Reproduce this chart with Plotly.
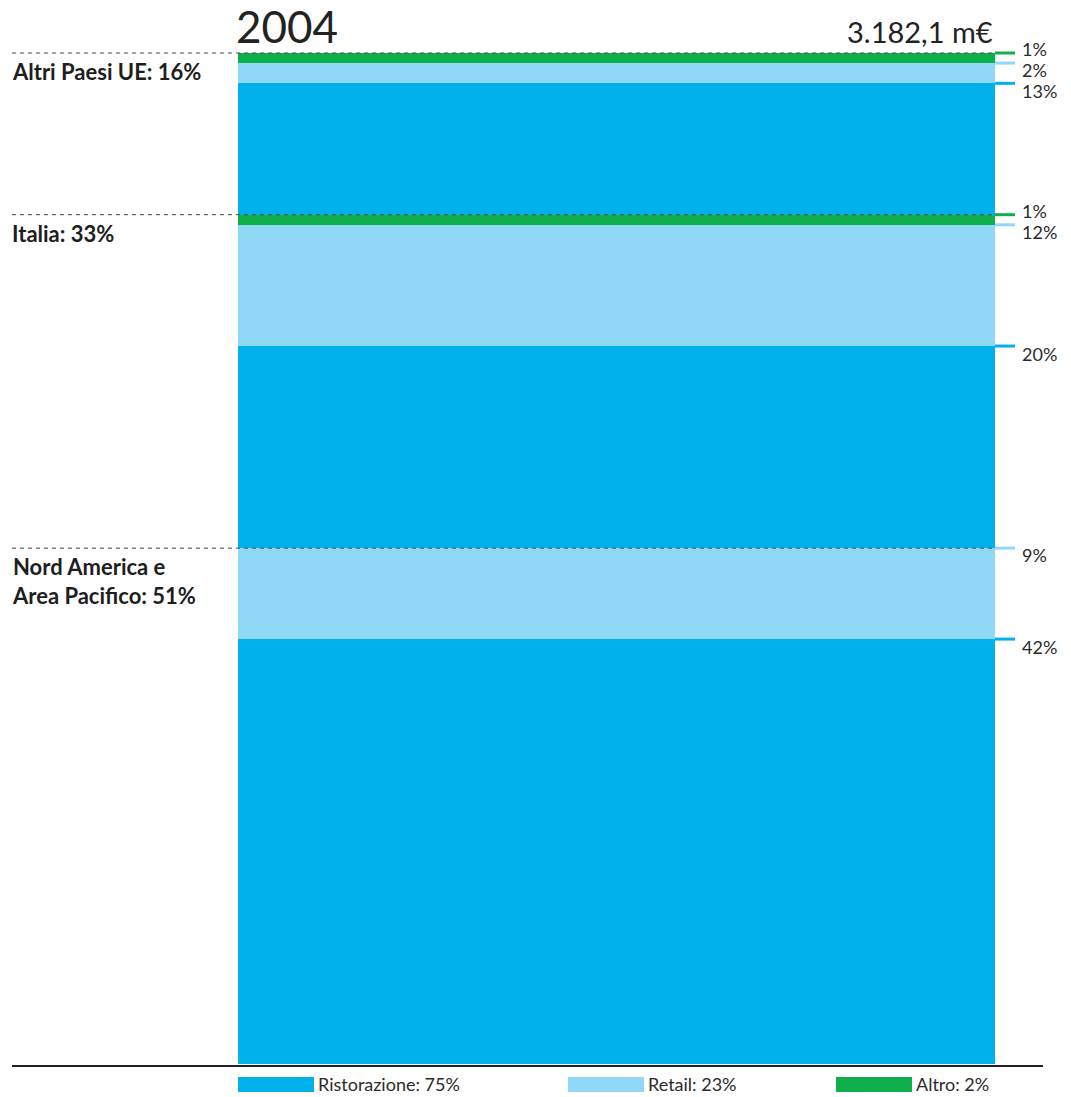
import numpy as np
import plotly.graph_objects as go

# ---- data -------------------------------------------------------------
year = "2004"
total_label = "3.182,1 m€"
regions = ["Nord America e<br>Area Pacifico", "Italia", "Altri Paesi UE"]  # bottom -> top
categories = ["Ristorazione", "Retail", "Altro"]
ristorazione = [42, 20, 13]   # % of total, per region
retail = [9, 12, 2]
altro = [0, 1, 1]

# ---- styling -------------------------------------------------------------
colors = {"Ristorazione": "#00B1EC", "Retail": "#8FD9F7", "Altro": "#0DB04B"}
label_shift = {"Ristorazione": -8, "Retail": -7, "Altro": 4}
W, H = 1071, 1097
BAR_L, BAR_R = 238, 995          # bar edges (px)
BAR_B, BAR_T = 1063.5, 53        # bar bottom/top (px)
TEXT = "#2b2b2b"
legend_x = [238, 568, 836]       # legend swatch left edges (px)

values = {"Ristorazione": ristorazione, "Retail": retail, "Altro": altro}
total = float(sum(ristorazione) + sum(retail) + sum(altro))

# axis ranges chosen so that the plot area is the whole page
x0r = -0.5 - BAR_L / (BAR_R - BAR_L)
x1r = 0.5 + (W - BAR_R) / (BAR_R - BAR_L)
ppu = (BAR_B - BAR_T) / total
y0r = -(H - BAR_B) / ppu
y1r = total + BAR_T / ppu


def x_at(px):
    return x0r + px / W * (x1r - x0r)


def y_at(py):
    return y1r - py / H * (y1r - y0r)


# ---- build stacked segments ---------------------------------------------
segments = []  # (region index, category, value, base)
cum = 0.0
region_tops = []
for ri in range(len(regions)):
    for cat in categories:
        v = values[cat][ri]
        if v > 0:
            segments.append((ri, cat, v, cum))
            cum += v
    region_tops.append(cum)

fig = go.Figure()
for cat in categories:
    seg = [s for s in segments if s[1] == cat]
    fig.add_trace(go.Bar(
        x=[0] * len(seg), y=[s[2] for s in seg], base=[s[3] for s in seg],
        width=1, marker=dict(color=colors[cat], line=dict(width=0)),
        name=cat, showlegend=False, hoverinfo="skip",
    ))

shapes = []
annotations = []

# value ticks and labels on the right side
for ri, cat, v, base in segments:
    top = base + v
    shapes.append(dict(type="line", xref="x", yref="y", x0=0.5, x1=x_at(1015),
                       y0=top, y1=top, line=dict(color=colors[cat], width=3)))
    annotations.append(dict(xref="x", yref="y", x=x_at(1020), y=top, text=f"{v:g}%",
                            showarrow=False, xanchor="left", yanchor="middle",
                            yshift=label_shift[cat],
                            font=dict(family="Lato", size=18, color=TEXT)))

# region separators and region labels
for ri, name in enumerate(regions):
    top = region_tops[ri]
    share = sum(values[c][ri] for c in categories)
    shapes.append(dict(type="line", xref="x", yref="y", x0=x_at(12), x1=0.5,
                       y0=top, y1=top, layer="above",
                       line=dict(color="#4a4a4a", width=1, dash="4px,4px")))
    annotations.append(dict(xref="x", yref="y", x=x_at(10), y=top,
                            text=f"<b>{name}: {share:g}%</b>", showarrow=False,
                            xanchor="left", yanchor="top", yshift=-3, align="left",
                            font=dict(family="Lato", size=22, color="#1e1e1e")))

# baseline
shapes.append(dict(type="line", xref="x", yref="y", x0=x_at(12), x1=x_at(1043),
                   y0=y_at(1066), y1=y_at(1066), line=dict(color="#222222", width=2)))

# title and total
annotations.append(dict(xref="x", yref="y", x=x_at(234), y=y_at(26), text=year,
                        showarrow=False, xanchor="left", yanchor="middle",
                        font=dict(family="Lato", size=44, color="#222222")))
annotations.append(dict(xref="x", yref="y", x=0.5, y=y_at(31), text=total_label,
                        showarrow=False, xanchor="right", yanchor="middle",
                        font=dict(family="Lato", size=29, color="#222222")))

# legend drawn as swatches with text
for lx, cat in zip(legend_x, categories):
    share = sum(values[cat])
    shapes.append(dict(type="rect", xref="x", yref="y", x0=x_at(lx), x1=x_at(lx + 76),
                       y0=y_at(1092), y1=y_at(1077), line=dict(width=0),
                       fillcolor=colors[cat]))
    annotations.append(dict(xref="x", yref="y", x=x_at(lx + 78), y=y_at(1084),
                            text=f"{cat}: {share:g}%", showarrow=False,
                            xanchor="left", yanchor="middle",
                            font=dict(family="Lato", size=18, color=TEXT)))

fig.update_layout(
    width=W, height=H, margin=dict(l=0, r=0, t=0, b=0),
    paper_bgcolor="white", plot_bgcolor="white",
    barmode="overlay", bargap=0,
    xaxis=dict(range=[x0r, x1r], visible=False, fixedrange=True),
    yaxis=dict(range=[y0r, y1r], visible=False, fixedrange=True),
    shapes=shapes, annotations=annotations,
)

fig.write_html("out.html")
